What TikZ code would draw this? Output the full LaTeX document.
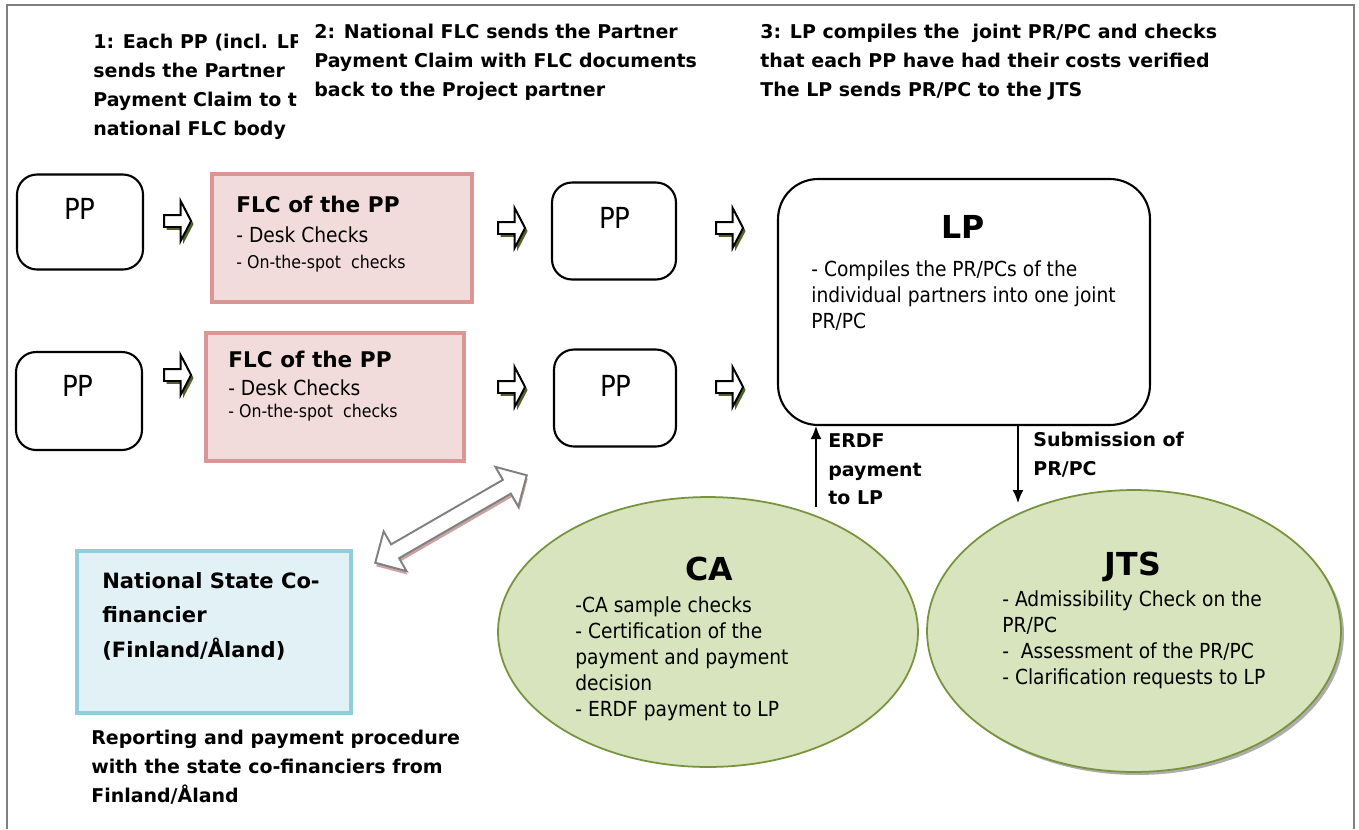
\documentclass[tikz,border=0pt]{standalone}
\usepackage{fontspec}
\setmainfont{DejaVu Sans}
\newfontfamily\narrowfont{DejaVu Sans Condensed}
\usepackage{xcolor}
\usetikzlibrary{shapes.arrows,shapes.geometric,shadows,arrows.meta}

\definecolor{flcedge}{HTML}{D99694}
\definecolor{flcfill}{HTML}{F2DCDB}
\definecolor{natedge}{HTML}{92CDDC}
\definecolor{natfill}{HTML}{E2F1F6}
\definecolor{ovalfill}{HTML}{D7E4BD}
\definecolor{ovaledge}{HTML}{77933C}
\definecolor{arrowshade}{HTML}{4F6228}
\definecolor{frameline}{HTML}{7F7F7F}
\definecolor{dblgray}{HTML}{808080}
\definecolor{dblshade}{HTML}{C9A2A1}

\tikzset{
  ppbox/.style={draw, line width=1.2pt, rounded corners=0.4cm, inner sep=0pt},
  flcbox/.style={draw=flcedge, fill=flcfill, line width=2.3pt, inner sep=0pt},
  nextarrow/.style={single arrow, draw, fill=white, line width=1.1pt, inner xsep=0pt, inner ysep=0.1cm,
    minimum height=0.54cm, single arrow head extend=0.28cm, single arrow tip angle=125,
    drop shadow={shadow xshift=0.05cm, shadow yshift=-0.06cm, fill=arrowshade, opacity=1}},
  oval/.style={ellipse, draw=ovaledge, fill=ovalfill, line width=1pt, inner sep=0pt},
  steptext/.style={anchor=north west, align=left, inner sep=0pt, font=\bfseries\fontsize{10.8}{16.4}\selectfont},
  bodytext/.style={anchor=north west, align=left, inner sep=0pt, font=\narrowfont\fontsize{11.8}{14.8}\selectfont},
  smalltext/.style={anchor=north west, inner sep=0pt, font=\narrowfont\fontsize{10}{12}\selectfont},
  boxtitle/.style={anchor=north west, inner sep=0pt, font=\bfseries\fontsize{12.3}{14}\selectfont},
  bigtitle/.style={anchor=north, inner sep=0pt, font=\bfseries\fontsize{18}{20}\selectfont},
  pplabel/.style={inner sep=0pt, font=\narrowfont\fontsize{16.5}{18}\selectfont},
  flowline/.style={line width=0.9pt, -{Latex[length=0.26cm,width=0.22cm]}},
}

\begin{document}
\begin{tikzpicture}[x=0.02cm,y=-0.02cm]
  \useasboundingbox (0,0) rectangle (1359,829);
  \draw[frameline, line width=0.8pt] (7,829) -- (7,5) -- (1354,5) -- (1354,829);

  \begin{scope}
    \clip (0,0) rectangle (297,160);
    \node[steptext] (step1) at (93,34) {1: Each PP (incl. LP)\\sends the Partner\\Payment Claim to the\\national FLC body};
  \end{scope}
  \node[steptext] (step2) at (314,24) {2: National FLC sends the Partner\\Payment Claim with FLC documents\\back to the Project partner};
  \node[steptext] (step3) at (760,24) {3: LP compiles the\ \ joint PR/PC and checks\\that each PP have had their costs verified\\The LP sends PR/PC to the JTS};

  % first row
  \node[ppbox, minimum width=2.52cm, minimum height=1.9cm] (ppa) at (80,222) {};
  \node[pplabel] (ppatext) at (80,209) {PP};
  \node[nextarrow] (arra) at (176,221) {};
  \node[flcbox, minimum width=5.2cm, minimum height=2.56cm] (flca) at (342,238) {};
  \node[boxtitle] (flcatitle) at (236,196) {FLC of the PP};
  \node[bodytext] (flcadesk) at (236,226) {- Desk Checks};
  \node[smalltext] (flcaspot) at (236,255) {- On-the-spot\ \ checks};
  \node[nextarrow] (arrb) at (510,228) {};
  \node[ppbox, minimum width=2.48cm, minimum height=1.94cm] (ppb) at (614,231) {};
  \node[pplabel] (ppbtext) at (615,218) {PP};
  \node[nextarrow] (arrc) at (728,228) {};

  % second row
  \node[ppbox, minimum width=2.52cm, minimum height=1.96cm] (ppc) at (79,401) {};
  \node[pplabel] (ppctext) at (78,386) {PP};
  \node[nextarrow] (arrd) at (176,375) {};
  \node[flcbox, minimum width=5.16cm, minimum height=2.56cm] (flcb) at (335,397) {};
  \node[boxtitle] (flcbtitle) at (228,351) {FLC of the PP};
  \node[bodytext] (flcbdesk) at (228,379) {- Desk Checks};
  \node[smalltext] (flcbspot) at (228,404) {- On-the-spot\ \ checks};
  \node[nextarrow] (arre) at (510,387) {};
  \node[ppbox, minimum width=2.44cm, minimum height=1.94cm] (ppd) at (615,398) {};
  \node[pplabel] (ppdtext) at (616,386) {PP};
  \node[nextarrow] (arrf) at (728,387) {};

  % lead partner
  \node[ppbox, rounded corners=0.8cm, minimum width=7.44cm, minimum height=4.92cm] (lp) at (964,302) {};
  \node[bigtitle] (lptitle) at (963,215) {LP};
  \node[bodytext] (lptext) at (811,260) {- Compiles the PR/PCs of the\\individual partners into one joint\\PR/PC};

  % national co-financier
  \node[draw=natedge, fill=natfill, line width=2.3pt, minimum width=5.48cm, minimum height=3.24cm] (nat) at (214,632) {};
  \node[anchor=north west, align=left, inner sep=0pt, font=\bfseries\fontsize{12}{19.6}\selectfont] (nattext) at (102,572) {National State Co-\\financier\\(Finland/Åland)};
  \node[steptext] (natnote) at (91,730) {Reporting and payment procedure\\with the state co-financiers from\\Finland/Åland};
  \node[double arrow, draw=dblgray, fill=white, line width=1.1pt, inner xsep=0pt, inner ysep=0.14cm,
    minimum height=3.5cm, double arrow head extend=0.3cm, rotate=30,
    drop shadow={shadow xshift=0.02cm, shadow yshift=-0.07cm, fill=dblshade, opacity=1}] (link) at (451,519) {};

  % CA and JTS
  \node[oval, minimum width=8.4cm, minimum height=5.4cm] (ca) at (708,632) {};
  \node[bigtitle] (catitle) at (709,557) {CA};
  \node[bodytext] (catext) at (575,596) {-CA sample checks\\- Certification of the\\payment and payment\\decision\\- ERDF payment to LP};
  \node[oval, minimum width=8.28cm, minimum height=5.64cm,
    drop shadow={shadow xshift=0.06cm, shadow yshift=-0.06cm, fill=black!40, opacity=0.8}] (jts) at (1134,631) {};
  \node[bigtitle] (jtstitle) at (1133,552) {JTS};
  \node[bodytext] (jtstext) at (1002,590) {- Admissibility Check on the\\PR/PC\\-\ \ Assessment of the PR/PC\\- Clarification requests to LP};

  % payment and submission
  \coordinate (erdfstart) at (816,507);
  \draw[flowline] (erdfstart) -- (erdfstart |- lp.south);
  \node[steptext] (erdftext) at (828,433) {ERDF\\payment\\to LP};
  \coordinate (subend) at (1018,503);
  \draw[flowline] (subend |- lp.south) -- (subend);
  \node[steptext] (subtext) at (1033,432) {Submission of\\PR/PC};
\end{tikzpicture}
\end{document}
